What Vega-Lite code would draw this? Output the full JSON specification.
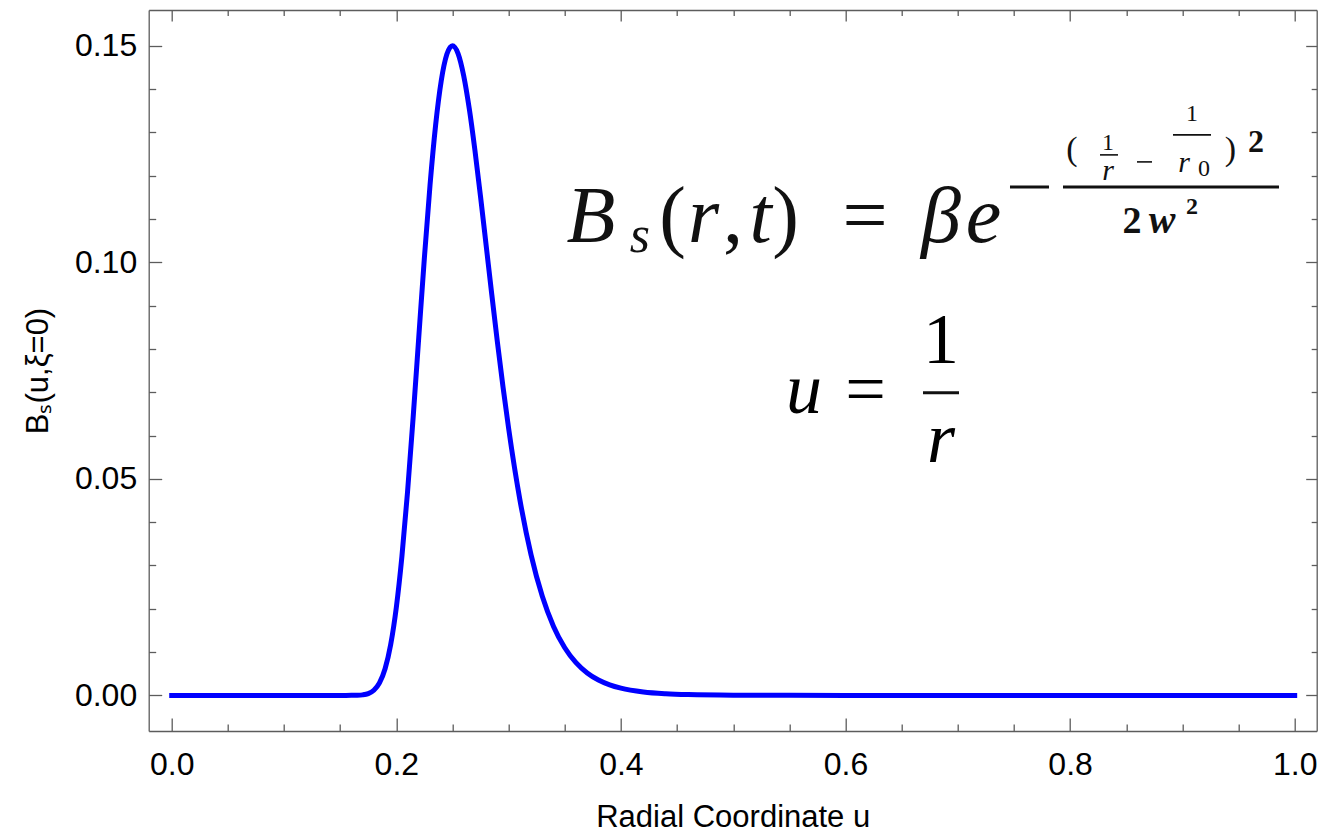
{
  "$schema": "https://vega.github.io/schema/vega-lite/v6.json",
  "width": 1168,
  "height": 721,
  "autosize": "none",
  "padding": {"left": 148.7, "top": 10, "right": 1.3, "bottom": 104},
  "background": "white",
  "config": {
    "view": {"stroke": null},
    "axis": {"grid": false, "domainColor": "#5c5c5c", "tickColor": "#5c5c5c", "domainWidth": 1.3, "tickWidth": 1.3, "labelColor": "#000000", "labelFont": "Liberation Sans", "labelFontSize": 32, "titleFont": "Liberation Sans", "titleFontSize": 31, "titleFontWeight": "normal", "titleColor": "#000000", "labelFlush": false, "labelOverlap": false}
  },
  "datasets": {
    "curve": [
      {"x": 0, "y": 0}, {"x": 0.1, "y": 0}, {"x": 0.15, "y": 0}, {"x": 0.16, "y": 0.000006}, {"x": 0.165, "y": 0.000031},
      {"x": 0.17, "y": 0.000126}, {"x": 0.175, "y": 0.00042}, {"x": 0.18, "y": 0.001187}, {"x": 0.185, "y": 0.002888},
      {"x": 0.19, "y": 0.006167}, {"x": 0.195, "y": 0.011763}, {"x": 0.2, "y": 0.0203}, {"x": 0.205, "y": 0.0321},
      {"x": 0.21, "y": 0.04698}, {"x": 0.215, "y": 0.06423}, {"x": 0.22, "y": 0.08273}, {"x": 0.225, "y": 0.10105},
      {"x": 0.23, "y": 0.11776}, {"x": 0.235, "y": 0.13166}, {"x": 0.24, "y": 0.14189}, {"x": 0.245, "y": 0.14801},
      {"x": 0.25, "y": 0.15}, {"x": 0.255, "y": 0.14817}, {"x": 0.26, "y": 0.14306}, {"x": 0.265, "y": 0.13539},
      {"x": 0.27, "y": 0.12585}, {"x": 0.275, "y": 0.11515}, {"x": 0.28, "y": 0.10389}, {"x": 0.285, "y": 0.09258},
      {"x": 0.29, "y": 0.0816}, {"x": 0.295, "y": 0.07124}, {"x": 0.3, "y": 0.06167}, {"x": 0.31, "y": 0.04524},
      {"x": 0.32, "y": 0.03244}, {"x": 0.33, "y": 0.02288}, {"x": 0.34, "y": 0.01593}, {"x": 0.35, "y": 0.01101},
      {"x": 0.36, "y": 0.00756}, {"x": 0.37, "y": 0.00518}, {"x": 0.38, "y": 0.00354}, {"x": 0.39, "y": 0.00243},
      {"x": 0.4, "y": 0.001666}, {"x": 0.42, "y": 0.000793}, {"x": 0.44, "y": 0.000384}, {"x": 0.46, "y": 0.00019},
      {"x": 0.5, "y": 0.00005}, {"x": 0.55, "y": 0.000011}, {"x": 0.6, "y": 0}, {"x": 0.8, "y": 0}, {"x": 1.0, "y": 0}
    ],
    "it80": [
      {"x": 0.37337, "y": 0.10471, "label": "B"}, {"x": 0.47355, "y": 0.10471, "label": "r"},
      {"x": 0.52431, "y": 0.10471, "label": "t"}, {"x": 0.68504, "y": 0.10471, "label": "β"},
      {"x": 0.72289, "y": 0.10471, "label": "e"}
    ],
    "rm80": [
      {"x": 0.44595, "y": 0.10471, "label": "("}, {"x": 0.49982, "y": 0.10471, "label": ","},
      {"x": 0.54657, "y": 0.10471, "label": ")"}, {"x": 0.61737, "y": 0.10471, "label": "="}
    ],
    "it52": [{"x": 0.41700, "y": 0.1024, "label": "s"}],
    "it72": [{"x": 0.56304, "y": 0.06524, "label": "u"}, {"x": 0.68504, "y": 0.05394, "label": "r"}],
    "rm72": [{"x": 0.61781, "y": 0.06524, "label": "="}, {"x": 0.68504, "y": 0.07678, "label": "1"}],
    "rm34": [{"x": 0.80169, "y": 0.12363, "label": "("}, {"x": 0.94283, "y": 0.12363, "label": ")"}],
    "rm24": [{"x": 0.83375, "y": 0.12594, "label": "1"}, {"x": 0.90855, "y": 0.13263, "label": "1"}, {"x": 0.91923, "y": 0.11994, "label": "0"}],
    "it30": [{"x": 0.83375, "y": 0.11902, "label": "r"}, {"x": 0.90142, "y": 0.12086, "label": "r"}],
    "bd32": [{"x": 0.96554, "y": 0.12548, "label": "2"}],
    "bd38": [{"x": 0.85511, "y": 0.10679, "label": "2"}],
    "itbd40": [{"x": 0.88183, "y": 0.10679, "label": "w"}],
    "bd24": [{"x": 0.90855, "y": 0.11117, "label": "2"}],
    "thick": [
      {"x": 0.74648, "x2": 0.78121, "y": 0.1174},
      {"x": 0.79368, "x2": 0.98602, "y": 0.1174},
      {"x": 0.66902, "x2": 0.70107, "y": 0.06986}
    ],
    "thin": [
      {"x": 0.82663, "x2": 0.84265, "y": 0.12479},
      {"x": 0.85957, "x2": 0.87293, "y": 0.12317},
      {"x": 0.89163, "x2": 0.92547, "y": 0.1294}
    ]
  },
  "encoding": {
    "x": {"field": "x", "type": "quantitative", "scale": {"domain": [-0.0205, 1.0196], "nice": false, "zero": false}, "axis": null},
    "y": {"field": "y", "type": "quantitative", "scale": {"domain": [-0.00822, 0.15824], "nice": false, "zero": false}, "axis": null}
  },
  "resolve": {"axis": {"x": "independent", "y": "independent"}},
  "layer": [
    {
      "data": {"name": "curve"},
      "mark": {"type": "line", "color": "#0000ff", "strokeWidth": 5, "strokeCap": "square", "interpolate": "monotone", "clip": true},
      "encoding": {
        "x": {"field": "x", "type": "quantitative", "scale": {"domain": [-0.0205, 1.0196], "nice": false, "zero": false},
          "axis": {"orient": "bottom", "values": [0, 0.2, 0.4, 0.6, 0.8, 1.0], "format": ".1f", "tickSize": -13, "labelPadding": 31, "title": "Radial Coordinate u", "titlePadding": 22}},
        "y": {"field": "y", "type": "quantitative", "scale": {"domain": [-0.00822, 0.15824], "nice": false, "zero": false},
          "axis": {"orient": "left", "values": [0, 0.05, 0.1, 0.15], "format": ".2f", "tickSize": -13, "labelPadding": 25, "title": "Bₛ(u,ξ=0)", "titlePadding": 20}}
      }
    },
    {
      "data": {"name": "curve"},
      "mark": {"type": "line", "opacity": 0},
      "encoding": {
        "x": {"field": "x", "type": "quantitative", "scale": {"domain": [-0.0205, 1.0196], "nice": false, "zero": false},
          "axis": {"orient": "bottom", "values": [0.05, 0.1, 0.15, 0.25, 0.3, 0.35, 0.45, 0.5, 0.55, 0.65, 0.7, 0.75, 0.85, 0.9, 0.95], "tickSize": -7, "labels": false, "domain": false, "title": null}},
        "y": {"field": "y", "type": "quantitative", "scale": {"domain": [-0.00822, 0.15824], "nice": false, "zero": false},
          "axis": {"orient": "left", "values": [0.01, 0.02, 0.03, 0.04, 0.06, 0.07, 0.08, 0.09, 0.11, 0.12, 0.13, 0.14], "tickSize": -7, "labels": false, "domain": false, "title": null}}
      }
    },
    {
      "data": {"name": "curve"},
      "mark": {"type": "line", "opacity": 0},
      "encoding": {
        "x": {"field": "x", "type": "quantitative", "scale": {"domain": [-0.0205, 1.0196], "nice": false, "zero": false},
          "axis": {"orient": "top", "values": [0, 0.2, 0.4, 0.6, 0.8, 1.0], "tickSize": -11, "labels": false, "title": null}},
        "y": {"field": "y", "type": "quantitative", "scale": {"domain": [-0.00822, 0.15824], "nice": false, "zero": false},
          "axis": {"orient": "right", "values": [0, 0.05, 0.1, 0.15], "tickSize": -11, "labels": false, "title": null}}
      }
    },
    {
      "data": {"name": "curve"},
      "mark": {"type": "line", "opacity": 0},
      "encoding": {
        "x": {"field": "x", "type": "quantitative", "scale": {"domain": [-0.0205, 1.0196], "nice": false, "zero": false},
          "axis": {"orient": "top", "values": [0.05, 0.1, 0.15, 0.25, 0.3, 0.35, 0.45, 0.5, 0.55, 0.65, 0.7, 0.75, 0.85, 0.9, 0.95], "tickSize": -5.5, "labels": false, "domain": false, "title": null}},
        "y": {"field": "y", "type": "quantitative", "scale": {"domain": [-0.00822, 0.15824], "nice": false, "zero": false},
          "axis": {"orient": "right", "values": [0.01, 0.02, 0.03, 0.04, 0.06, 0.07, 0.08, 0.09, 0.11, 0.12, 0.13, 0.14], "tickSize": -5.5, "labels": false, "domain": false, "title": null}}
      }
    },
    {"data": {"name": "it80"}, "mark": {"type": "text", "font": "Liberation Serif", "fontStyle": "italic", "fontSize": 80, "align": "center", "baseline": "alphabetic", "color": "#111111"}, "encoding": {"text": {"field": "label"}}},
    {"data": {"name": "rm80"}, "mark": {"type": "text", "font": "Liberation Serif", "fontSize": 80, "align": "center", "baseline": "alphabetic", "color": "#111111"}, "encoding": {"text": {"field": "label"}}},
    {"data": {"name": "it52"}, "mark": {"type": "text", "font": "Liberation Serif", "fontStyle": "italic", "fontSize": 52, "align": "center", "baseline": "alphabetic", "color": "#111111"}, "encoding": {"text": {"field": "label"}}},
    {"data": {"name": "it72"}, "mark": {"type": "text", "font": "Liberation Serif", "fontStyle": "italic", "fontSize": 72, "align": "center", "baseline": "alphabetic", "color": "#000000"}, "encoding": {"text": {"field": "label"}}},
    {"data": {"name": "rm72"}, "mark": {"type": "text", "font": "Liberation Serif", "fontSize": 72, "align": "center", "baseline": "alphabetic", "color": "#000000"}, "encoding": {"text": {"field": "label"}}},
    {"data": {"name": "rm34"}, "mark": {"type": "text", "font": "Liberation Serif", "fontSize": 34, "align": "center", "baseline": "alphabetic", "color": "#111111"}, "encoding": {"text": {"field": "label"}}},
    {"data": {"name": "rm24"}, "mark": {"type": "text", "font": "Liberation Serif", "fontSize": 24, "align": "center", "baseline": "alphabetic", "color": "#111111"}, "encoding": {"text": {"field": "label"}}},
    {"data": {"name": "it30"}, "mark": {"type": "text", "font": "Liberation Serif", "fontStyle": "italic", "fontSize": 30, "align": "center", "baseline": "alphabetic", "color": "#111111"}, "encoding": {"text": {"field": "label"}}},
    {"data": {"name": "bd32"}, "mark": {"type": "text", "font": "Liberation Serif", "fontWeight": "bold", "fontSize": 32, "align": "center", "baseline": "alphabetic", "color": "#111111"}, "encoding": {"text": {"field": "label"}}},
    {"data": {"name": "bd38"}, "mark": {"type": "text", "font": "Liberation Serif", "fontWeight": "bold", "fontSize": 38, "align": "center", "baseline": "alphabetic", "color": "#111111"}, "encoding": {"text": {"field": "label"}}},
    {"data": {"name": "itbd40"}, "mark": {"type": "text", "font": "Liberation Serif", "fontWeight": "bold", "fontStyle": "italic", "fontSize": 40, "align": "center", "baseline": "alphabetic", "color": "#111111"}, "encoding": {"text": {"field": "label"}}},
    {"data": {"name": "bd24"}, "mark": {"type": "text", "font": "Liberation Serif", "fontWeight": "bold", "fontSize": 24, "align": "center", "baseline": "alphabetic", "color": "#111111"}, "encoding": {"text": {"field": "label"}}},
    {"data": {"name": "thick"}, "mark": {"type": "rule", "strokeWidth": 3, "color": "#111111"}, "encoding": {"x2": {"field": "x2"}}},
    {"data": {"name": "thin"}, "mark": {"type": "rule", "strokeWidth": 1.6, "color": "#111111"}, "encoding": {"x2": {"field": "x2"}}}
  ]
}
